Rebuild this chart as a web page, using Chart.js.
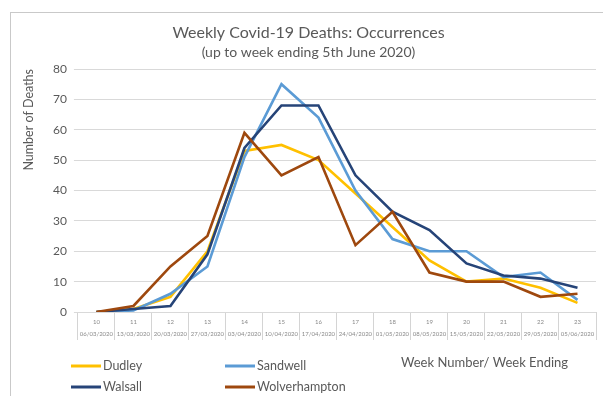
<!DOCTYPE html>
<html>
<head>
<meta charset="utf-8">
<script src="https://cdn.jsdelivr.net/npm/chart.js@4.4.0/dist/chart.umd.min.js"></script>
<style>
  html, body { margin: 0; padding: 0; background: #fff; }
  #wrap { position: relative; width: 603px; height: 396px; overflow: hidden; }
  #frame { position: absolute; left: 10px; top: 12px; width: 700px; height: 500px; border: 1px solid #c9c9c9; }
  canvas { position: absolute; left: 0; top: 0; }
</style>
</head>
<body>
<div id="wrap">
  <div id="frame"></div>
  <canvas id="deaths" width="603" height="396"></canvas>
</div>
<script>
const weeks = ['10', '11', '12', '13', '14', '15', '16', '17', '18', '19', '20', '21', '22', '23'];
const weekEnding = ['06/03/2020', '13/03/2020', '20/03/2020', '27/03/2020', '03/04/2020', '10/04/2020', '17/04/2020',
  '24/04/2020', '01/05/2020', '08/05/2020', '15/05/2020', '22/05/2020', '29/05/2020', '05/06/2020'];

const dudley        = [0, 1, 5, 20, 53, 55, 50, 39, 28, 17, 10, 11, 8, 3];
const sandwell      = [0, 0.5, 6, 15, 51, 75, 64, 40, 24, 20, 20, 11.5, 13, 4];
const walsall       = [0, 1, 2, 19, 54, 68, 68, 45, 33, 27, 16, 12, 11, 8];
const wolverhampton = [0, 2, 15, 25, 59, 45, 51, 22, 33, 13, 10, 10, 5, 6];

const FONT = 'Lato';
const GREY = '#595959';

// week number / week ending boxes under the x axis
const weekTable = {
  id: 'weekTable',
  afterDraw(chart) {
    const { ctx } = chart;
    const x = chart.scales.x;
    ctx.save();
    ctx.fillStyle = '#8a8a8a';
    ctx.textAlign = 'center';
    ctx.textBaseline = 'middle';
    weeks.forEach((w, i) => {
      const px = x.getPixelForValue(i);
      ctx.font = '6px ' + FONT;
      ctx.fillText(w, px, x.top + 10);
      ctx.fillText(weekEnding[i], px, x.top + 22);
    });
    ctx.restore();
  }
};

// two-by-two legend plus the axis caption
const gridLegend = {
  id: 'gridLegend',
  afterDraw(chart) {
    const { ctx } = chart;
    const spots = [[71, 366], [225, 366], [71, 387], [225, 387]];
    ctx.save();
    ctx.font = '12.5px ' + FONT;
    ctx.fillStyle = GREY;
    ctx.textBaseline = 'middle';
    chart.data.datasets.forEach((ds, i) => {
      const [lx, ly] = spots[i];
      ctx.strokeStyle = ds.borderColor;
      ctx.lineWidth = 3;
      ctx.beginPath();
      ctx.moveTo(lx, ly);
      ctx.lineTo(lx + 30, ly);
      ctx.stroke();
      ctx.fillText(ds.label, lx + 32, ly);
    });
    ctx.font = '13px ' + FONT;
    ctx.fillText('Week Number/ Week Ending', 401, 363);
    ctx.restore();
  }
};

new Chart(document.getElementById('deaths'), {
  type: 'line',
  data: {
    labels: weeks,
    datasets: [
      { label: 'Dudley', data: dudley, borderColor: '#FFC000', order: 3 },
      { label: 'Sandwell', data: sandwell, borderColor: '#5B9BD5', order: 2 },
      { label: 'Walsall', data: walsall, borderColor: '#264478', order: 1 },
      { label: 'Wolverhampton', data: wolverhampton, borderColor: '#9E480E', order: 0 }
    ]
  },
  options: {
    responsive: false,
    animation: false,
    layout: { padding: { top: 12, left: 21, right: 7, bottom: 56 } },
    elements: {
      line: { borderWidth: 2.6, tension: 0, fill: false },
      point: { radius: 0 }
    },
    plugins: {
      legend: { display: false },
      tooltip: { enabled: false },
      title: {
        display: true,
        text: 'Weekly Covid-19 Deaths: Occurrences',
        color: GREY,
        font: { family: FONT, size: 16, weight: 'normal' },
        padding: { top: 11, bottom: 2 }
      },
      subtitle: {
        display: true,
        text: '(up to week ending 5th June 2020)',
        color: GREY,
        font: { family: FONT, size: 14, weight: 'normal' },
        padding: { top: 0, bottom: 8 }
      }
    },
    scales: {
      x: {
        offset: true,
        ticks: { display: false },
        border: { display: false },
        grid: { offset: true, drawOnChartArea: false, tickLength: 28, color: '#d4d4d4' }
      },
      y: {
        min: 0,
        max: 80,
        ticks: { stepSize: 10, color: GREY, font: { family: FONT, size: 12 }, padding: 7 },
        border: { display: false },
        grid: { color: '#d9d9d9', tickLength: 4 },
        title: {
          display: true,
          text: 'Number of Deaths',
          align: 'end',
          color: GREY,
          font: { family: FONT, size: 12.5 },
          padding: { top: 0, bottom: 10 }
        }
      }
    }
  },
  plugins: [weekTable, gridLegend]
});
</script>
</body>
</html>
